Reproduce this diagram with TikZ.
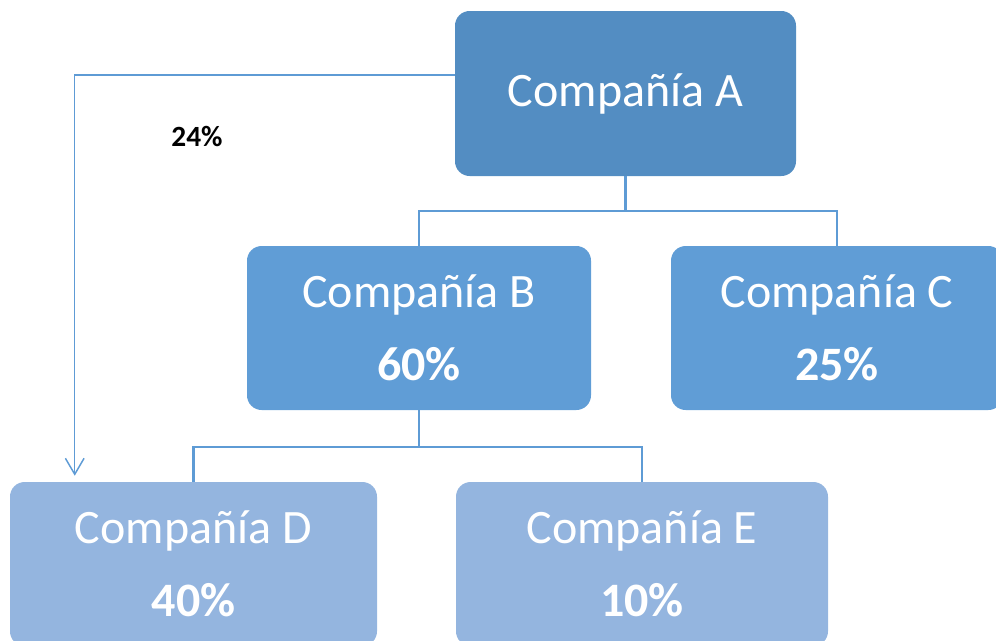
\documentclass[tikz,border=0pt]{standalone}
\usepackage{fontspec}
\setmainfont{Carlito}
\usepackage{xcolor}
\usepackage{tikz}
\usetikzlibrary{arrows.meta,positioning}
\definecolor{azulA}{RGB}{83,141,194}
\definecolor{azulB}{RGB}{96,157,214}
\definecolor{azulD}{RGB}{148,181,223}
\definecolor{linea}{RGB}{94,155,213}
\tikzset{
  empresa/.style={rounded corners=11pt, text=white, align=center, inner sep=0pt, font=\fontsize{36}{55}\selectfont},
  nivelA/.style={empresa, fill=azulA, minimum width=255.75pt, minimum height=123.75pt},
  nivelB/.style={empresa, fill=azulB, minimum height=123pt},
  nivelD/.style={empresa, fill=azulD, minimum height=123pt},
  link/.style={draw=linea, line width=1.8pt},
  ownflow/.style={draw=linea, line width=1.1pt, -{Straight Barb[length=12pt,width=14pt,line width=1.1pt]}}
}
\begin{document}
\begin{tikzpicture}[x=0.75pt,y=-0.75pt]
  \useasboundingbox (0,0) rectangle (996,640);
  \clip (0,0) rectangle (996,640);

  \node[nivelA] (compA) at (625.5,93.5) {Compañía A};

  \node[nivelB, minimum width=258pt] (compB) at (419,328) {Compañía B\\\textbf{60\%}};
  \node[nivelB, minimum width=249pt] (compC) at (837,328) {Compañía C\\\textbf{25\%}};

  \node[nivelD, minimum width=275.25pt] (compD) at (193.5,564) {Compañía D\\\textbf{40\%}};
  \node[nivelD, minimum width=279pt] (compE) at (642,564) {Compañía E\\\textbf{10\%}};

  \draw[link] (compA.south) -- ++(0,35) -| (compB.north);
  \draw[link] (compA.south) -- ++(0,35) -| (compC.north);
  \draw[link] (compB.south) -- ++(0,37) -| (compD.north);
  \draw[link] (compB.south) -- ++(0,37) -| (compE.north);

  \draw[ownflow] ([yshift=13.75pt]compA.west) -| ([xshift=48.75pt,yshift=4.5pt]compD.north west);
  \node[font=\fontsize{22}{26}\selectfont\bfseries] (pct24) at (197,137) {24\%};
\end{tikzpicture}
\end{document}
